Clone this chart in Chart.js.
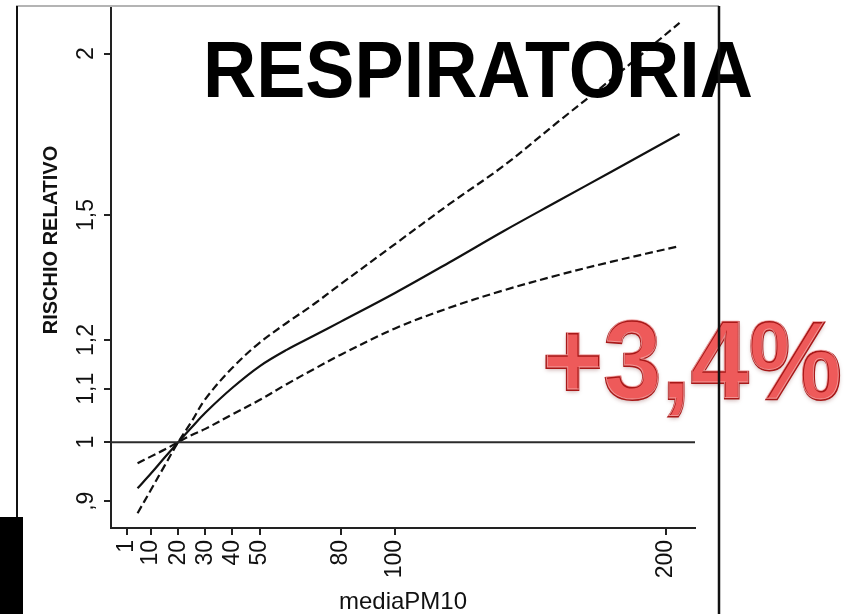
<!DOCTYPE html>
<html>
<head>
<meta charset="utf-8">
<script src="https://cdn.jsdelivr.net/npm/chart.js@4.4.0/dist/chart.umd.min.js"></script>
<style>
html,body{margin:0;padding:0;background:#fff;}
#wrap{width:857px;height:614px;}
</style>
</head>
<body>
<div id="wrap"><canvas id="rrChart" width="857" height="614"></canvas></div>
<script>
const pm10 = [5, 10, 15, 20, 25, 30, 40, 50, 60, 70, 80, 100, 120, 140, 160, 180, 205];
// relative risk: estimate and confidence band
const rrFit   = [0.921, 0.946, 0.973, 1.0, 1.027, 1.054, 1.102, 1.145, 1.179, 1.209, 1.240, 1.305, 1.378, 1.457, 1.537, 1.621, 1.733];
const rrUpper = [0.881, 0.919, 0.959, 1.0, 1.038, 1.080, 1.142, 1.194, 1.237, 1.279, 1.326, 1.424, 1.529, 1.637, 1.770, 1.912, 2.113];
const rrLower = [0.963, 0.975, 0.987, 1.0, 1.013, 1.024, 1.051, 1.078, 1.109, 1.139, 1.169, 1.225, 1.271, 1.311, 1.347, 1.380, 1.419];
// axes
const xTicks = [1, 10, 20, 30, 40, 50, 80, 100, 200];
const yTicks = [0.9, 1, 1.1, 1.2, 1.5, 2];
const yTickLabels = [',9', '1', '1,1', '1,2', '1,5', '2'];
const xMin = -4.8, xMax = 210.7;
const yMin = 0.858, yMax = 2.17;
const refLevel = 1;

const FONT = "'Liberation Sans', Arial, sans-serif";

function toPoints(ys){
    return pm10.map((x, i) => ({x: x, y: ys[i]}));
}

// draws text squeezed/stretched to a given width
function fitText(ctx, txt, left, baseline, width, stroke){
    let w = ctx.measureText(txt).width;
    ctx.save();
    ctx.translate(left, baseline);
    ctx.scale(width / w, 1);
    ctx.textAlign = 'left';
    ctx.textBaseline = 'alphabetic';
    if (stroke) ctx.strokeText(txt, 0, 0);
    else ctx.fillText(txt, 0, 0);
    ctx.restore();
}

const extras = {
    id: 'extras',
    afterDraw(chart){
        const ctx = chart.ctx;
        const yScale = chart.scales.y;

        // y tick labels, rotated like the original
        ctx.save();
        ctx.fillStyle = '#111';
        ctx.font = '23px ' + FONT;
        for (let i = 0; i < yTicks.length; i++){
            let py = yScale.getPixelForValue(yTicks[i]);
            ctx.save();
            ctx.translate(93, py);
            ctx.rotate(-Math.PI / 2);
            ctx.textAlign = 'center';
            ctx.textBaseline = 'alphabetic';
            ctx.fillText(yTickLabels[i], 0, 0);
            ctx.restore();
        }
        // y axis title
        ctx.font = 'bold 20px ' + FONT;
        ctx.translate(51, 240);
        ctx.rotate(-Math.PI / 2);
        ctx.textAlign = 'center';
        ctx.textBaseline = 'middle';
        ctx.fillText('RISCHIO RELATIVO', 0, 0);
        ctx.restore();

        // big title
        ctx.save();
        ctx.fillStyle = '#000';
        ctx.font = 'bold 80px ' + FONT;
        fitText(ctx, 'RESPIRATORIA', 203, 97, 550);
        ctx.restore();

        // red percentage
        ctx.save();
        ctx.font = 'bold 112px ' + FONT;
        let g = ctx.createLinearGradient(0, 318, 0, 412);
        g.addColorStop(0, '#ee5a5a');
        g.addColorStop(0.5, '#de3434');
        g.addColorStop(1, '#c41f1f');
        ctx.shadowColor = 'rgba(90,0,0,0.3)';
        ctx.shadowBlur = 4;
        ctx.shadowOffsetY = 2;
        ctx.fillStyle = g;
        fitText(ctx, '+3,4%', 542, 399, 300);
        ctx.shadowColor = 'transparent';
        ctx.strokeStyle = '#a81818';
        ctx.lineWidth = 2;
        fitText(ctx, '+3,4%', 542, 399, 300, true);
        ctx.strokeStyle = 'rgba(255,190,190,0.7)';
        ctx.lineWidth = 1;
        fitText(ctx, '+3,4%', 543, 398, 298, true);
        ctx.restore();

        // slide frame bits
        ctx.save();
        ctx.strokeStyle = '#b4b4b4';
        ctx.lineWidth = 2;
        ctx.beginPath();
        ctx.moveTo(16, 6); ctx.lineTo(719, 6);
        ctx.stroke();
        ctx.strokeStyle = '#111';
        ctx.beginPath();
        ctx.moveTo(17, 6); ctx.lineTo(17, 518);
        ctx.stroke();
        ctx.lineWidth = 2.5;
        ctx.beginPath();
        ctx.moveTo(719, 6); ctx.lineTo(719, 614);
        ctx.stroke();
        ctx.fillStyle = '#000';
        ctx.fillRect(0, 517, 23, 97);
        ctx.restore();
    }
};

const lineStyle = {borderColor: '#111', borderWidth: 2.2, pointRadius: 0, tension: 0.35};

const config = {
    type: 'line',
    data: {
        datasets: [
            {
                label: 'ref',
                data: [{x: xMin, y: refLevel}, {x: xMax, y: refLevel}],
                borderColor: '#2b2b2b',
                borderWidth: 2,
                pointRadius: 0
            },
            Object.assign({label: 'upper', data: toPoints(rrUpper), borderDash: [8, 4]}, lineStyle),
            Object.assign({label: 'fit', data: toPoints(rrFit)}, lineStyle),
            Object.assign({label: 'lower', data: toPoints(rrLower), borderDash: [8, 4]}, lineStyle)
        ]
    },
    options: {
        responsive: false,
        animation: false,
        devicePixelRatio: 1,
        layout: {padding: {left: 0, right: 162, top: 8, bottom: 0}},
        plugins: {legend: {display: false}, tooltip: {enabled: false}},
        scales: {
            x: {
                type: 'linear',
                position: 'bottom',
                min: xMin,
                max: xMax,
                afterBuildTicks: (s) => { s.ticks = xTicks.map(v => ({value: v})); },
                afterFit: (s) => { s.height = 86; },
                ticks: {
                    autoSkip: false,
                    minRotation: 90,
                    maxRotation: 90,
                    padding: 5,
                    color: '#111',
                    font: {family: FONT, size: 23},
                    callback: (v) => String(v)
                },
                grid: {drawOnChartArea: false, drawTicks: true, tickLength: 7, color: '#222', lineWidth: 2},
                border: {display: true, color: '#222', width: 2},
                title: {
                    display: true,
                    text: 'mediaPM10',
                    color: '#111',
                    font: {family: FONT, size: 24, lineHeight: 1},
                    padding: {top: 0, bottom: 0}
                }
            },
            y: {
                type: 'logarithmic',
                position: 'left',
                min: yMin,
                max: yMax,
                afterBuildTicks: (s) => { s.ticks = yTicks.map(v => ({value: v})); },
                afterFit: (s) => { s.width = 111; },
                ticks: {display: false},
                grid: {drawOnChartArea: false, drawTicks: true, tickLength: 7, color: '#222', lineWidth: 2},
                border: {display: true, color: '#222', width: 2}
            }
        }
    },
    plugins: [extras]
};

new Chart(document.getElementById('rrChart'), config);
</script>
</body>
</html>
